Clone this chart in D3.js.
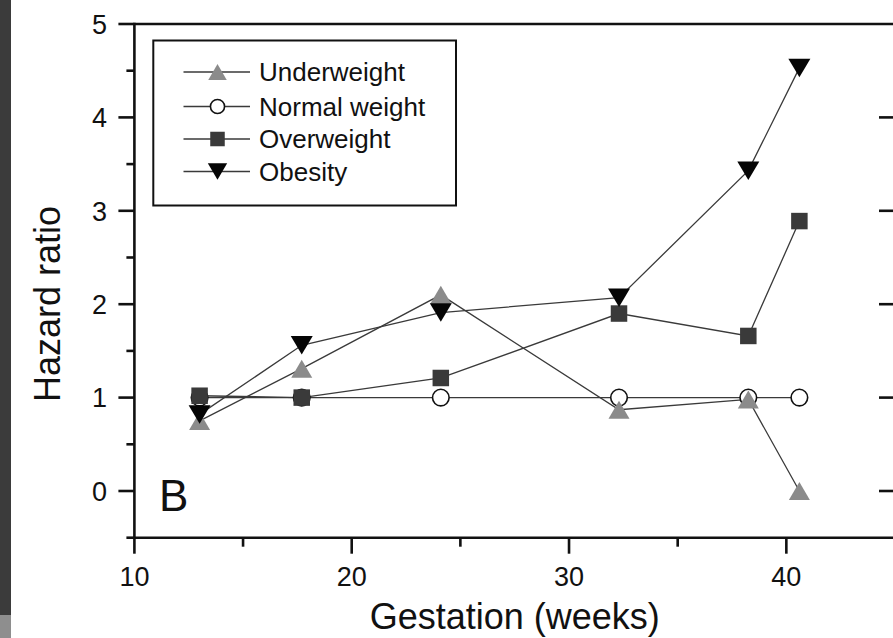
<!DOCTYPE html>
<html>
<head>
<meta charset="utf-8">
<script src="https://cdn.jsdelivr.net/npm/d3@7"></script>
<style>
  html, body { margin: 0; padding: 0; background: #fff; }
  svg { display: block; font-family: "Liberation Sans", Arial, Helvetica, sans-serif; }
</style>
</head>
<body>
<svg id="chart" width="893" height="638"></svg>
<script>
// ---- data ----
const weeks        = [13.0, 17.7, 24.1, 32.3, 38.25, 40.6];
const underweight  = [0.75, 1.31, 2.10, 0.87, 0.98, 0.00];
const normalWeight = [1.00, 1.00, 1.00, 1.00, 1.00, 1.00];
const overweight   = [1.02, 1.00, 1.21, 1.90, 1.66, 2.89];
const obesity      = [0.82, 1.56, 1.91, 2.07, 3.43, 4.53];
const seriesNames  = ["Underweight", "Normal weight", "Overweight", "Obesity"];
const xTicks = [10, 20, 30, 40];
const yTicks = [0, 1, 2, 3, 4, 5];

const svg = d3.select("#chart");
const W = 893, H = 638;

// background strip of the scan
svg.append("rect").attr("x", 0).attr("y", 0).attr("width", 11).attr("height", 615).attr("fill", "#3b3b3b");
svg.append("rect").attr("x", 0).attr("y", 615).attr("width", 11).attr("height", 23).attr("fill", "#8e8e8e");

const x = d3.scaleLinear().domain([10, 45]).range([134.4, 895]);
const y = d3.scaleLinear().domain([-0.5, 5]).range([537.7, 24]);

const axisColor = "#111";
const g = svg.append("g");

// frame lines
g.append("line").attr("x1", x(10)).attr("x2", x(45)).attr("y1", y(5)).attr("y2", y(5))
  .attr("stroke", axisColor).attr("stroke-width", 2.6);
g.append("line").attr("x1", x(10)).attr("x2", x(45)).attr("y1", y(-0.5)).attr("y2", y(-0.5))
  .attr("stroke", axisColor).attr("stroke-width", 2.6);
g.append("line").attr("x1", x(10)).attr("x2", x(10)).attr("y1", y(5) - 1.3).attr("y2", y(-0.5) + 1.3)
  .attr("stroke", axisColor).attr("stroke-width", 2.6);
g.append("line").attr("x1", x(45)).attr("x2", x(45)).attr("y1", y(5)).attr("y2", y(-0.5))
  .attr("stroke", axisColor).attr("stroke-width", 2.6);

// left axis ticks (major + minor), outward
const yMinor = d3.range(-0.5, 5, 1);
g.selectAll(".ymaj").data(yTicks).join("line")
  .attr("x1", x(10) - 16).attr("x2", x(10)).attr("y1", d => y(d)).attr("y2", d => y(d))
  .attr("stroke", axisColor).attr("stroke-width", 2.6);
g.selectAll(".ymin").data(yMinor).join("line")
  .attr("x1", x(10) - 8).attr("x2", x(10)).attr("y1", d => y(d)).attr("y2", d => y(d))
  .attr("stroke", axisColor).attr("stroke-width", 2.6);
// right axis ticks, inward
g.selectAll(".yr").data(yTicks.filter(d => d < 5)).join("line")
  .attr("x1", x(45) - 16).attr("x2", x(45)).attr("y1", d => y(d)).attr("y2", d => y(d))
  .attr("stroke", axisColor).attr("stroke-width", 2.6);
// y tick labels
g.selectAll(".ylab").data(yTicks).join("text")
  .attr("x", 107).attr("y", d => y(d)).attr("dy", "0.36em")
  .attr("text-anchor", "end").attr("font-size", 27).attr("fill", "#111")
  .text(d => d);

// bottom axis ticks
const xMinor = [15, 25, 35];
g.selectAll(".xmaj").data(xTicks).join("line")
  .attr("x1", d => x(d)).attr("x2", d => x(d)).attr("y1", y(-0.5)).attr("y2", y(-0.5) + 16)
  .attr("stroke", axisColor).attr("stroke-width", 2.6);
g.selectAll(".xmin").data(xMinor).join("line")
  .attr("x1", d => x(d)).attr("x2", d => x(d)).attr("y1", y(-0.5)).attr("y2", y(-0.5) + 9)
  .attr("stroke", axisColor).attr("stroke-width", 2.6);
g.selectAll(".xlab").data(xTicks).join("text")
  .attr("x", d => x(d)).attr("y", 586)
  .attr("text-anchor", "middle").attr("font-size", 27).attr("fill", "#111")
  .text(d => d);

// axis titles
svg.append("text").attr("x", (x(10) + x(45)) / 2).attr("y", 629)
  .attr("text-anchor", "middle").attr("font-size", 36).attr("fill", "#111")
  .text("Gestation (weeks)");
svg.append("text").attr("transform", "translate(60,304) rotate(-90)")
  .attr("text-anchor", "middle").attr("font-size", 36).attr("fill", "#111")
  .text("Hazard ratio");

// panel letter
svg.append("text").attr("x", 159).attr("y", 511).attr("font-size", 44).attr("fill", "#111").text("B");

// marker shapes
function upTri(w, h) { return `M0,${-h/2}L${w/2},${h/2}L${-w/2},${h/2}Z`; }
function downTri(w, h) { return `M0,${h/2}L${w/2},${-h/2}L${-w/2},${-h/2}Z`; }
function square(s) { return `M${-s/2},${-s/2}h${s}v${s}h${-s}Z`; }

const styles = {
  "Underweight":   { vals: underweight,  draw: (sel, k) => sel.append("path").attr("d", upTri(21*k, 18*k)).attr("fill", "#8b8b8b") },
  "Normal weight": { vals: normalWeight, draw: (sel, k) => sel.append("circle").attr("r", 8.3*k).attr("fill", "#fff").attr("stroke", "#111").attr("stroke-width", 1.6) },
  "Overweight":    { vals: overweight,   draw: (sel, k) => sel.append("path").attr("d", square(16.5*k)).attr("fill", "#3a3a3a") },
  "Obesity":       { vals: obesity,      draw: (sel, k) => sel.append("path").attr("d", downTri(22*k, 18.5*k)).attr("fill", "#050505") }
};

const line = d3.line().x(d => x(d[0])).y(d => y(d[1]));
const order = ["Normal weight", "Underweight", "Overweight", "Obesity"];
order.forEach(name => {
  const pts = weeks.map((w, i) => [w, styles[name].vals[i]]);
  svg.append("path").datum(pts).attr("d", line)
    .attr("fill", "none").attr("stroke", "#3a3a3a").attr("stroke-width", 1.3);
});
order.forEach(name => {
  const pts = weeks.map((w, i) => [w, styles[name].vals[i]]);
  pts.forEach(p => {
    const m = svg.append("g").attr("transform", `translate(${x(p[0])},${y(p[1])})`);
    styles[name].draw(m, 1);
  });
});

// legend
const leg = svg.append("g");
leg.append("rect").attr("x", 153.3).attr("y", 40.5).attr("width", 302.7).attr("height", 165)
  .attr("fill", "#fff").attr("stroke", "#111").attr("stroke-width", 2);
const rowY = [72, 106.5, 139, 171.5];
seriesNames.forEach((name, i) => {
  const ry = rowY[i];
  leg.append("line").attr("x1", 183.5).attr("x2", 250).attr("y1", ry).attr("y2", ry)
    .attr("stroke", "#3a3a3a").attr("stroke-width", 1.3);
  const m = leg.append("g").attr("transform", `translate(217.5,${ry})`);
  styles[name].draw(m, name === "Normal weight" ? 0.85 : 0.88);
  leg.append("text").attr("x", 259).attr("y", ry).attr("dy", "0.36em")
    .attr("font-size", 26).attr("fill", "#111").text(name);
});
</script>
</body>
</html>
